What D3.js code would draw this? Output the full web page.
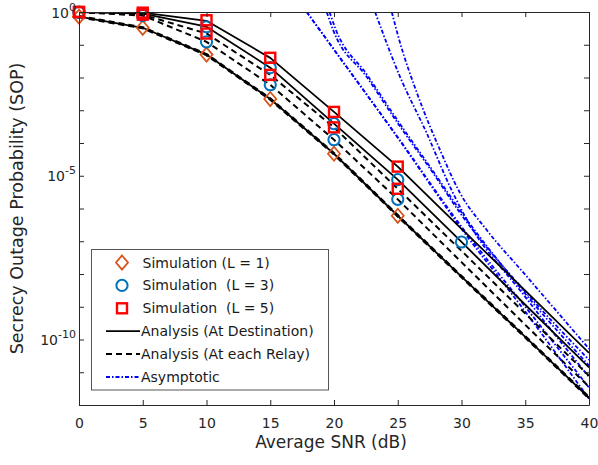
<!DOCTYPE html>
<html>
<head>
<meta charset="utf-8">
<script src="https://cdn.jsdelivr.net/npm/d3@7"></script>
<style>
  body { margin: 0; background: #fff; }
  svg { font-family: "DejaVu Sans", sans-serif; }
</style>
</head>
<body>
<svg id="chart" width="598" height="465"></svg>
<script>
// SNR grid (dB)
const snr = [0, 5, 10, 15, 20, 25, 30, 35, 40]

// analysis, at destination (solid)
const dest_l1 = [0.72, 0.33, 0.050, 2.2e-3, 4.7e-5, 6.0e-7, 8.3e-9, 1.2e-10, 1.66e-12]
const dest_l3 = [1, 0.89, 0.355, 0.020, 3.9e-4, 7.6e-6, 9.5e-8, 1.15e-9, 1.4e-11]
const dest_l5 = [1, 0.955, 0.537, 0.0398, 8.9e-4, 1.9e-5, 2.4e-7, 3.1e-9, 3.9e-11]

// analysis, at each relay (dashed)
const relay_l1 = [0.72, 0.33, 0.050, 2.2e-3, 4.7e-5, 6.0e-7, 8.3e-9, 1.2e-10, 1.66e-12]
const relay_l3 = [0.98, 0.78, 0.123, 6.0e-3, 1.26e-4, 1.9e-6, 2.3e-8, 2.8e-10, 3.6e-12]
const relay_l5 = [1, 0.83, 0.22, 0.012, 3.0e-4, 4.0e-6, 5.1e-8, 6.2e-10, 7.8e-12]

// simulation points
const sim_snr = [0, 5, 10, 15, 20, 25, 30]
const sim_l1 = [0.72, 0.33, 0.050, 2.2e-3, 4.7e-5, 6.0e-7]
const sim_l3_dest = [1, 0.89, 0.355, 0.020, 3.9e-4, 7.6e-6, 9.5e-8]
const sim_l3_relay = [0.98, 0.78, 0.123, 6.0e-3, 1.26e-4, 1.9e-6]
const sim_l5_dest = [1, 0.955, 0.56, 0.040, 8.9e-4, 1.9e-5]
const sim_l5_relay = [1, 0.83, 0.22, 0.012, 3.0e-4, 4.0e-6]

// asymptotic curves (dB, SOP)
const asy_1a_snr = [17.86, 20, 25, 30, 35, 40]
const asy_1a = [1, 0.071, 1.45e-4, 2.4e-7, 7.1e-10, 1.55e-12]
const asy_1b_snr = [17.86, 20, 25, 30, 35, 40]
const asy_1b = [1, 0.071, 1.5e-4, 2.8e-7, 1.0e-9, 3.4e-12]
const asy_2_snr = [19.43, 19.92, 22.56, 25.18, 27.76, 29.88, 35, 40]
const asy_2 = [1, 0.29, 0.0105, 3.2e-4, 1.23e-5, 7.4e-7, 2.9e-9, 2.4e-11]
const asy_3_snr = [19.65, 20.1, 22.56, 25.18, 27.76, 29.88, 35, 40]
const asy_3 = [1, 0.32, 0.0126, 3.8e-4, 1.4e-5, 8.9e-7, 2.5e-9, 1.6e-11]
const asy_4_snr = [23.22, 25.18, 27.27, 29.1, 30.12, 35, 40]
const asy_4 = [1, 0.0105, 2.0e-4, 4.6e-6, 7.4e-7, 2.0e-9, 7.2e-12]
const asy_5_snr = [24.53, 25.18, 26.49, 28.31, 29.88, 31.98, 35, 40]
const asy_5 = [1, 0.115, 3.5e-3, 6.2e-5, 3.0e-6, 2.2e-7, 9.5e-9, 5.2e-11]

const x_ticks = [0, 5, 10, 15, 20, 25, 30, 35, 40]
const y_ticks = [1, 1e-1, 1e-2, 1e-3, 1e-4, 1e-5, 1e-6, 1e-7, 1e-8, 1e-9, 1e-10, 1e-11, 1e-12]
const y_labels = [[1, '0'], [1e-5, '-5'], [1e-10, '-10']]

const legend_items = ['Simulation (L = 1)', 'Simulation  (L = 3)', 'Simulation  (L = 5)',
    'Analysis (At Destination)', 'Analysis (At each Relay)', 'Asymptotic']

const svg = d3.select('#chart')
const margin = ({ top: 12, right: 9, bottom: 60, left: 79 })
const width = 598, height = 465
const axis_col = '#262626'

const x = d3.scaleLinear()
    .domain([0, 40])
    .range([margin.left, width - margin.right])
const y = d3.scaleLog()
    .domain([1e-12, 1])
    .range([height - margin.bottom, margin.top])

const zip = (xs, ys) => ys.map((v, i) => ({ snr: xs[i], p: v }))

svg.append('clipPath').attr('id', 'plot-clip')
    .append('rect')
    .attr('x', x(0)).attr('y', y(1))
    .attr('width', x(40) - x(0)).attr('height', y(1e-12) - y(1))

// analysis is drawn point to point, asymptotes are smooth
const line = d3.line()
    .x(d => x(d.snr))
    .y(d => y(d.p))
const smooth_line = d3.line()
    .x(d => x(d.snr))
    .y(d => y(d.p))
    .curve(d3.curveMonotoneX)

const lines = svg.append('g').attr('clip-path', 'url(#plot-clip)')

// asymptotic
const asy = [[asy_1a_snr, asy_1a], [asy_1b_snr, asy_1b], [asy_2_snr, asy_2],
    [asy_3_snr, asy_3], [asy_4_snr, asy_4], [asy_5_snr, asy_5]]
asy.forEach(([xs, ys]) => {
    lines.append('path')
        .datum(zip(xs, ys))
        .attr('fill', 'none')
        .attr('stroke', '#0000ff')
        .attr('stroke-width', 1.8)
        .attr('stroke-dasharray', '4,2,1.5,2')
        .attr('d', smooth_line)
})

// analysis
;[dest_l1, dest_l3, dest_l5].forEach(s => {
    lines.append('path')
        .datum(zip(snr, s))
        .attr('fill', 'none')
        .attr('stroke', '#000')
        .attr('stroke-width', 1.8)
        .attr('stroke-linejoin', 'round')
        .attr('d', line)
})
;[relay_l1, relay_l3, relay_l5].forEach((s, i) => {
    lines.append('path')
        .datum(zip(snr, s))
        .attr('fill', 'none')
        .attr('stroke', '#000')
        .attr('stroke-width', i == 0 ? 3.2 : 2)
        .attr('stroke-dasharray', '6,4')
        .attr('d', line)
})

// markers
const diamond = (g, cx, cy) => g.append('path')
    .attr('d', `M${cx},${cy - 7}L${cx + 6},${cy}L${cx},${cy + 7}L${cx - 6},${cy}Z`)
    .attr('fill', 'none').attr('stroke', '#d95319').attr('stroke-width', 1.8)
const circle = (g, cx, cy) => g.append('circle')
    .attr('cx', cx).attr('cy', cy).attr('r', 5.6)
    .attr('fill', 'none').attr('stroke', '#0072bd').attr('stroke-width', 2)
const square = (g, cx, cy) => g.append('rect')
    .attr('x', cx - 5).attr('y', cy - 5).attr('width', 10).attr('height', 10)
    .attr('fill', 'none').attr('stroke', '#ff0000').attr('stroke-width', 2.4)

const marks = svg.append('g')
zip(sim_snr, sim_l1).forEach(d => diamond(marks, x(d.snr), y(d.p)))
zip(sim_snr, sim_l3_dest).concat(zip(sim_snr, sim_l3_relay))
    .forEach(d => circle(marks, x(d.snr), y(d.p)))
zip(sim_snr, sim_l5_dest).concat(zip(sim_snr, sim_l5_relay))
    .forEach(d => square(marks, x(d.snr), y(d.p)))

// axes, MATLAB style box with inward ticks
const style_axis = g => {
    g.select('.domain').attr('stroke', axis_col).attr('stroke-width', 1)
    g.selectAll('.tick line').attr('stroke', axis_col)
    g.selectAll('.tick text').attr('fill', axis_col)
        .attr('font-size', 14).attr('font-family', '"DejaVu Sans", sans-serif')
}
svg.append('g')
    .attr('transform', `translate(0,${y(1e-12)})`)
    .call(d3.axisBottom(x).tickValues(x_ticks).tickSizeInner(-5).tickSizeOuter(0).tickPadding(13))
    .call(style_axis)
svg.append('g')
    .attr('transform', `translate(0,${y(1)})`)
    .call(d3.axisTop(x).tickValues(x_ticks).tickSizeInner(-5).tickSizeOuter(0).tickFormat(''))
    .call(style_axis)
svg.append('g')
    .attr('transform', `translate(${x(0)},0)`)
    .call(d3.axisLeft(y).tickValues(y_ticks).tickSizeInner(-5).tickSizeOuter(0).tickFormat(''))
    .call(style_axis)
svg.append('g')
    .attr('transform', `translate(${x(40)},0)`)
    .call(d3.axisRight(y).tickValues(y_ticks).tickSizeInner(-5).tickSizeOuter(0).tickFormat(''))
    .call(style_axis)

y_labels.forEach(([v, e]) => {
    const t = svg.append('text')
        .attr('x', x(0) - 3)
        .attr('y', y(v) + 5.5)
        .attr('text-anchor', 'end')
        .attr('fill', axis_col)
        .attr('font-size', 14)
    t.append('tspan').text('10')
    t.append('tspan').attr('dy', -7).attr('font-size', 11).text(e)
})

svg.append('text')
    .attr('x', (x(0) + x(40)) / 2 - 3)
    .attr('y', 448)
    .attr('text-anchor', 'middle')
    .attr('fill', axis_col)
    .attr('font-size', 17)
    .text('Average SNR (dB)')
svg.append('text')
    .attr('transform', `translate(23,${(y(1) + y(1e-12)) / 2}) rotate(-90)`)
    .attr('text-anchor', 'middle')
    .attr('fill', axis_col)
    .attr('font-size', 17.5)
    .text('Secrecy Outage Probability (SOP)')

// legend
const lg = svg.append('g')
lg.append('rect')
    .attr('x', 91.5).attr('y', 249.5).attr('width', 237).attr('height', 140.5)
    .attr('fill', '#fff').attr('stroke', '#555').attr('stroke-width', 1)
const row_y = i => 262.5 + i * 22.9
diamond(lg, 122, row_y(0))
circle(lg, 122, row_y(1))
square(lg, 122, row_y(2))
lg.append('line').attr('x1', 106).attr('x2', 140).attr('y1', row_y(3)).attr('y2', row_y(3))
    .attr('stroke', '#000').attr('stroke-width', 1.8)
lg.append('line').attr('x1', 106).attr('x2', 140).attr('y1', row_y(4)).attr('y2', row_y(4))
    .attr('stroke', '#000').attr('stroke-width', 2).attr('stroke-dasharray', '6,4')
lg.append('line').attr('x1', 106).attr('x2', 140).attr('y1', row_y(5)).attr('y2', row_y(5))
    .attr('stroke', '#0000ff').attr('stroke-width', 1.8).attr('stroke-dasharray', '4,2,1.5,2')
legend_items.forEach((s, i) => {
    lg.append('text')
        .attr('x', i < 3 ? 142.5 : 141)
        .attr('y', row_y(i) + 5)
        .attr('fill', '#1a1a1a')
        .attr('font-size', 14)
        .style('white-space', 'pre')
        .text(s)
})
</script>
</body>
</html>
